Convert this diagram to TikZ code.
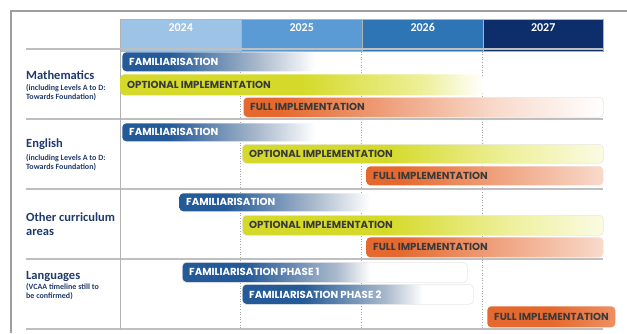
\documentclass[tikz,border=0pt]{standalone}
\usepackage{fontspec}
\setmainfont{Carlito}
\newfontfamily\barfont{Poppins}
\definecolor{c24}{HTML}{9DC3E6}
\definecolor{c25}{HTML}{5B9BD5}
\definecolor{c26}{HTML}{2E75B6}
\definecolor{c27}{HTML}{0E2D6B}
\definecolor{navy}{HTML}{1F3A6B}
\definecolor{famblue}{HTML}{245A97}
\definecolor{famgray}{HTML}{A9B9CC}
\definecolor{optyel}{HTML}{D5DA2A}
\definecolor{optmid}{HTML}{EEF09C}
\definecolor{optpale}{HTML}{FAFBE2}
\definecolor{orng}{HTML}{E5692E}
\definecolor{orngmid}{HTML}{EFA07C}
\definecolor{orngpale}{HTML}{F8DACB}
\definecolor{orngend}{HTML}{EE8F62}
\definecolor{bartxt}{HTML}{3A3A3A}
\pgfdeclarehorizontalshading{famA}{100bp}{color(0bp)=(famblue); color(37bp)=(famblue); color(60bp)=(famgray); color(75bp)=(white); color(100bp)=(white)}
\pgfdeclarehorizontalshading{famB}{100bp}{color(0bp)=(famblue); color(36bp)=(famblue); color(52bp)=(famgray); color(58bp)=(white); color(100bp)=(white)}
\pgfdeclarehorizontalshading{famC}{100bp}{color(0bp)=(famblue); color(38bp)=(famblue); color(56bp)=(famgray); color(64bp)=(white); color(100bp)=(white)}
\pgfdeclarehorizontalshading{optA}{100bp}{color(0bp)=(optyel); color(50bp)=(optyel); color(67bp)=(optmid); color(75bp)=(white); color(100bp)=(white)}
\pgfdeclarehorizontalshading{optB}{100bp}{color(0bp)=(optyel); color(45bp)=(optyel); color(62bp)=(optmid); color(75bp)=(optpale); color(100bp)=(optpale)}
\pgfdeclarehorizontalshading{fullA}{100bp}{color(0bp)=(orng); color(30bp)=(orng); color(45bp)=(orngmid); color(60bp)=(orngpale); color(75bp)=(white); color(100bp)=(white)}
\pgfdeclarehorizontalshading{fullB}{100bp}{color(0bp)=(orng); color(32bp)=(orng); color(52bp)=(orngmid); color(75bp)=(orngpale); color(100bp)=(orngpale)}
\pgfdeclarehorizontalshading{fullC}{100bp}{color(0bp)=(orng); color(50bp)=(orng); color(75bp)=(orngend); color(100bp)=(orngend)}
\newcommand\gbar[8]{%
  \pgfmathsetmacro\gw{#4-#3}\pgfmathsetmacro\gh{#6-#5}%
  \node[barbox,#2,minimum width=\gw pt,minimum height=\gh pt] (#1) at (#3,#5) {};
  \node[#7] (#1t) at ([xshift=7pt]#1.west) {#8};}
\begin{document}
\begin{tikzpicture}[x=1pt,y=-1pt,
  frame/.style={draw=black!38,line width=1.5pt},
  sepline/.style={draw=black!25,line width=1.3pt},
  vline/.style={draw=black!30,line width=1pt},
  dotline/.style={draw=black!35,line width=0.6pt,dotted},
  yearcell/.style={anchor=north west,minimum width=121pt,inner ysep=3pt,inner xsep=0pt,
    text height=9pt,text depth=17pt,draw=white!70!black,line width=0.4pt,
    text=white,font=\bfseries\fontsize{12}{14}\selectfont},
  lab/.style={anchor=base west,inner sep=0pt,text=navy,font=\bfseries\fontsize{12.5}{14}\selectfont},
  sub/.style={anchor=base west,inner sep=0pt,text=navy,font=\bfseries\fontsize{8}{9}\selectfont},
  barbox/.style={anchor=north west,inner sep=0pt,rounded corners=4pt,line width=0.6pt},
  wtxt/.style={anchor=west,inner sep=0pt,text=white,font=\barfont\bfseries\fontsize{10.2}{12}\selectfont},
  dtxt/.style={anchor=west,inner sep=0pt,text=bartxt,font=\barfont\bfseries\fontsize{10.2}{12}\selectfont},
  faint/.style={draw=black!9}]
\useasboundingbox (0,0) rectangle (627,333);
\fill[white] (0,0) rectangle (627,333);
% frame
\draw[frame] (627,11) -- (11,11) -- (11,333);
% header
\node[yearcell,fill=c24] (h24) at (120,19) {2024};
\node[yearcell,fill=c25] (h25) at (241,19) {2025};
\node[yearcell,fill=c26] (h26) at (362,19) {2026};
\node[yearcell,fill=c27,minimum width=120pt] (h27) at (483,19) {2027};
% grid
\foreach \x in {240,361,482} \draw[dotline] (\x,49) -- (\x,329);
\foreach \y in {49,119,189,259,329} \draw[sepline] (26,\y) -- (603,\y);
\draw[vline] (120,49) -- (120,329);
% Mathematics
\gbar{mfam}{shading=famA}{122}{315}{52}{71}{wtxt}{FAMILIARISATION}
\gbar{mopt}{shading=optA}{120}{483}{74}{95}{dtxt}{OPTIONAL IMPLEMENTATION}
\gbar{mful}{shading=fullA,faint}{243}{603}{97}{117}{dtxt}{FULL IMPLEMENTATION}
% English
\gbar{efam}{shading=famA}{122}{315}{123}{141}{wtxt}{FAMILIARISATION}
\gbar{eopt}{shading=optB,faint}{242}{603}{144}{163}{dtxt}{OPTIONAL IMPLEMENTATION}
\gbar{eful}{shading=fullB}{366}{603}{166}{185}{dtxt}{FULL IMPLEMENTATION}
% Other
\gbar{ofam}{shading=famA}{179}{370}{193}{211}{wtxt}{FAMILIARISATION}
\gbar{oopt}{shading=optB,faint}{242}{603}{215}{235}{dtxt}{OPTIONAL IMPLEMENTATION}
\gbar{oful}{shading=fullB}{366}{603}{237}{257}{dtxt}{FULL IMPLEMENTATION}
% Languages
\gbar{lp1}{shading=famB,faint}{182}{467}{262}{282}{wtxt}{FAMILIARISATION PHASE 1}
\gbar{lp2}{shading=famC,faint}{242}{473}{284}{304}{wtxt}{FAMILIARISATION PHASE 2}
\gbar{lful}{shading=fullC}{487}{615}{306}{327}{dtxt}{FULL IMPLEMENTATION}
% labels
\node[lab] (lm) at (26,79) {Mathematics};
\node[sub] (lm1) at (26,90.5) {(including Levels A to D:};
\node[sub] (lm2) at (26,99.5) {Towards Foundation)};
\node[lab] (le) at (26,147) {English};
\node[sub] (le1) at (26,160.5) {(including Levels A to D:};
\node[sub] (le2) at (26,169.5) {Towards Foundation)};
\node[lab] (lo1) at (26,221) {Other curriculum};
\node[lab] (lo2) at (26,235.5) {areas};
\node[lab] (ll) at (26,279) {Languages};
\node[sub] (ll1) at (26,289.5) {(VCAA timeline still to};
\node[sub] (ll2) at (26,298.5) {be confirmed)};
\end{tikzpicture}
\end{document}
